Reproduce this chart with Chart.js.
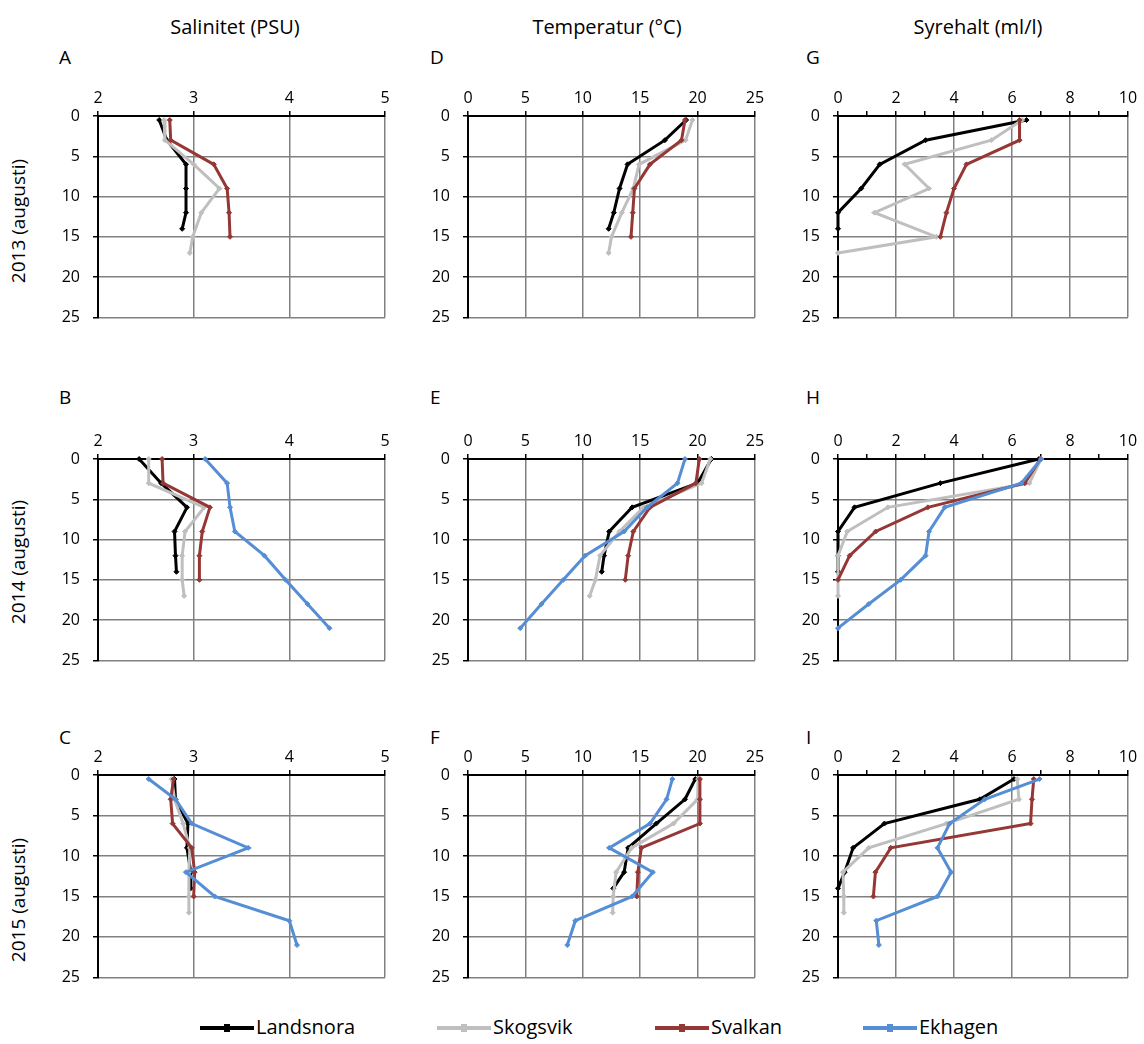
<!DOCTYPE html>
<html lang="sv">
<head>
<meta charset="UTF-8">
<title>Salinitet, temperatur och syrehalt</title>
<script src="https://cdn.jsdelivr.net/npm/chart.js"></script>
<style>
  body { margin: 0; background: #fff; font-family: "Open Sans", sans-serif; color: #000; }
  #page { position: relative; width: 1144px; height: 1044px; overflow: hidden; }
  #page div { position: absolute; white-space: nowrap; }
  .title { font-size: 20px; line-height: 28px; width: 300px; text-align: center; top: 13px; }
  .letter { font-size: 19px; line-height: 24px; }
  .row { font-size: 19px; line-height: 26px; width: 200px; text-align: center; transform: rotate(-90deg); }
  .leg { font-size: 20px; line-height: 28px; top: 1013px; }
  .leg span { display: inline-block; width: 54px; height: 4px; vertical-align: middle; margin-right: 2px; position: relative; top: -1px; }
  .leg span i { position: absolute; left: 24px; top: -2px; width: 6px; height: 8px; background: inherit; }
  canvas { position: absolute; }
</style>
</head>
<body>
<div id="page">
  <div class="title" style="left:85px">Salinitet (PSU)</div>
  <div class="title" style="left:457px">Temperatur (°C)</div>
  <div class="title" style="left:828px">Syrehalt (ml/l)</div>

  <div class="letter" style="left:59px;top:45px">A</div>
  <div class="letter" style="left:430px;top:45px">D</div>
  <div class="letter" style="left:806px;top:45px">G</div>
  <div class="letter" style="left:59px;top:385px">B</div>
  <div class="letter" style="left:430px;top:385px">E</div>
  <div class="letter" style="left:806px;top:385px">H</div>
  <div class="letter" style="left:59px;top:725px">C</div>
  <div class="letter" style="left:430px;top:725px">F</div>
  <div class="letter" style="left:806px;top:725px">I</div>

  <div class="row" style="left:-82px;top:208px">2013 (augusti)</div>
  <div class="row" style="left:-82px;top:549px">2014 (augusti)</div>
  <div class="row" style="left:-82px;top:887px">2015 (augusti)</div>
</div>

<script>
// stations and colours
const stations = ['Landsnora', 'Skogsvik', 'Svalkan', 'Ekhagen'];
const stationColors = ['#000000', '#BFBFBF', '#953735', '#558ED5'];

// sampling depths (m)
const landsnoraDepth13 = [0.5, 3, 6, 9, 12, 14];
const skogsvikDepth13 = [0.5, 3, 6, 9, 12, 15, 17];
const svalkanDepth13 = [0.5, 3, 6, 9, 12, 15];
const landsnoraDepth14 = [0, 3, 6, 9, 12, 14];
const skogsvikDepth14 = [0, 3, 6, 9, 12, 15, 17];
const svalkanDepth14 = [0, 3, 6, 9, 12, 15];
const ekhagenDepth14 = [0, 3, 6, 9, 12, 15, 18, 21];
const landsnoraDepth15 = [0.5, 3, 6, 9, 12, 14];
const skogsvikDepth15 = [0.5, 3, 6, 9, 12, 15, 17];
const svalkanDepth15 = [0.5, 3, 6, 9, 12, 15];
const ekhagenDepth15 = [0.5, 3, 6, 9, 12, 15, 18, 21];

// 2013
const landsnoraSal13 = [2.64, 2.72, 2.92, 2.92, 2.92, 2.88];
const skogsvikSal13 = [2.69, 2.70, 3.00, 3.27, 3.08, 2.99, 2.96];
const svalkanSal13 = [2.75, 2.76, 3.21, 3.35, 3.37, 3.38];
const landsnoraTemp13 = [19.0, 17.15, 13.9, 13.2, 12.7, 12.25];
const skogsvikTemp13 = [19.55, 18.95, 14.9, 14.4, 13.4, 12.5, 12.25];
const svalkanTemp13 = [18.9, 18.6, 15.85, 14.5, 14.35, 14.2];
const landsnoraOxy13 = [6.5, 3.02, 1.44, 0.8, 0, 0];
const skogsvikOxy13 = [6.35, 5.29, 2.3, 3.14, 1.26, 3.39, 0];
const svalkanOxy13 = [6.26, 6.26, 4.43, 4.0, 3.74, 3.53];

// 2014
const landsnoraSal14 = [2.43, 2.66, 2.93, 2.80, 2.81, 2.82];
const skogsvikSal14 = [2.53, 2.53, 3.11, 2.91, 2.88, 2.88, 2.90];
const svalkanSal14 = [2.67, 2.68, 3.17, 3.09, 3.06, 3.06];
const ekhagenSal14 = [3.12, 3.35, 3.38, 3.43, 3.74, 3.96, 4.19, 4.42];
const landsnoraTemp14 = [21.2, 20.0, 14.3, 12.3, 11.85, 11.65];
const skogsvikTemp14 = [21.1, 20.35, 15.3, 13.2, 11.5, 11.1, 10.6];
const svalkanTemp14 = [20.15, 19.85, 15.85, 14.4, 13.95, 13.7];
const ekhagenTemp14 = [18.9, 18.25, 15.6, 13.6, 10.2, 8.3, 6.4, 4.55];
const landsnoraOxy14 = [6.93, 3.53, 0.57, 0, 0, 0];
const skogsvikOxy14 = [7.0, 6.6, 1.72, 0.32, 0, 0, 0];
const svalkanOxy14 = [6.98, 6.44, 3.1, 1.3, 0.4, 0];
const ekhagenOxy14 = [7.01, 6.32, 3.68, 3.14, 3.02, 2.16, 1.06, 0];

// 2015
const landsnoraSal15 = [2.80, 2.81, 2.94, 2.93, 2.97, 2.97];
const skogsvikSal15 = [2.77, 2.80, 2.89, 2.96, 2.95, 2.95, 2.95];
const svalkanSal15 = [2.79, 2.76, 2.78, 2.98, 3.01, 3.00];
const ekhagenSal15 = [2.53, 2.81, 2.98, 3.57, 2.92, 3.22, 4.0, 4.08];
const landsnoraTemp15 = [19.8, 18.9, 16.4, 13.95, 13.6, 12.65];
const skogsvikTemp15 = [20.05, 20.0, 17.9, 14.25, 12.9, 12.65, 12.6];
const svalkanTemp15 = [20.2, 20.2, 20.2, 15.1, 14.8, 14.7];
const ekhagenTemp15 = [17.8, 17.3, 15.85, 12.3, 16.1, 14.3, 9.35, 8.65];
const landsnoraOxy15 = [6.07, 4.89, 1.6, 0.52, 0.23, 0];
const skogsvikOxy15 = [6.18, 6.24, 3.74, 1.06, 0.17, 0.2, 0.2];
const svalkanOxy15 = [6.75, 6.69, 6.64, 1.82, 1.29, 1.22];
const ekhagenOxy15 = [6.95, 5.06, 3.85, 3.43, 3.9, 3.43, 1.32, 1.41];

// axis ranges
const salTicks = [2, 5, 1];
const tempTicks = [0, 25, 5];
const oxyTicks = [0, 10, 1];
const depthTicks = [0, 25, 5];

// layout of the 3x3 grid
const colLeft = [98, 468, 838];
const colWidth = [287, 287, 290];
const rowTop = [116, 459, 775];
const rowHeight = [212, 212, 213];
const Y_W = 44, X_H = 36, PAD_R = 14, PAD_B = 12;
const GRID = '#808080';
const tickFont = { family: 'Open Sans', size: 16 };

const page = document.getElementById('page');

function panel(col, row, xr, lines) {
  const w = colWidth[col], h = rowHeight[row];
  const canvas = document.createElement('canvas');
  canvas.width = Y_W + w + PAD_R;
  canvas.height = X_H + h + PAD_B;
  canvas.style.left = (colLeft[col] - Y_W) + 'px';
  canvas.style.top = (rowTop[row] - X_H) + 'px';
  page.appendChild(canvas);

  const oxy = xr === oxyTicks;
  new Chart(canvas, {
    type: 'scatter',
    data: {
      datasets: lines.map(l => ({
        label: stations[l[0]],
        data: l[1].map((d, k) => ({ x: l[2][k], y: d })),
        showLine: true,
        borderColor: stationColors[l[0]],
        backgroundColor: stationColors[l[0]],
        borderWidth: 3,
        pointRadius: 2.5,
        pointBorderWidth: 1,
        pointStyle: 'rectRot',
        order: 3 - l[0],
        clip: 6
      }))
    },
    options: {
      responsive: false,
      animation: false,
      devicePixelRatio: 1,
      layout: { padding: { left: 0, top: 0, right: PAD_R, bottom: PAD_B } },
      plugins: { legend: { display: false }, tooltip: { enabled: false } },
      scales: {
        x: {
          type: 'linear', position: 'top',
          min: xr[0], max: xr[1],
          afterFit: s => { s.height = X_H; },
          ticks: {
            stepSize: xr[2], autoSkip: false, maxRotation: 0, padding: 3,
            color: '#000', font: tickFont,
            callback: v => (oxy && v % 2 !== 0) ? '' : v
          },
          grid: {
            color: c => (oxy && c.tick && c.tick.value % 2 !== 0) ? 'rgba(0,0,0,0)' : GRID,
            lineWidth: 1.5, tickColor: '#000', tickLength: 5, tickWidth: 1.5
          },
          border: { color: '#000', width: 2 }
        },
        y: {
          type: 'linear', reverse: true,
          min: depthTicks[0], max: depthTicks[1],
          afterFit: s => { s.width = Y_W; },
          ticks: { stepSize: depthTicks[2], padding: 13, color: '#000', font: tickFont },
          grid: { color: GRID, lineWidth: 1.5, tickColor: '#000', tickLength: 5, tickWidth: 1.5 },
          border: { color: '#000', width: 2 }
        }
      }
    }
  });
}

// 2013
panel(0, 0, salTicks, [[0, landsnoraDepth13, landsnoraSal13], [1, skogsvikDepth13, skogsvikSal13], [2, svalkanDepth13, svalkanSal13]]);
panel(1, 0, tempTicks, [[0, landsnoraDepth13, landsnoraTemp13], [1, skogsvikDepth13, skogsvikTemp13], [2, svalkanDepth13, svalkanTemp13]]);
panel(2, 0, oxyTicks, [[0, landsnoraDepth13, landsnoraOxy13], [1, skogsvikDepth13, skogsvikOxy13], [2, svalkanDepth13, svalkanOxy13]]);
// 2014
panel(0, 1, salTicks, [[0, landsnoraDepth14, landsnoraSal14], [1, skogsvikDepth14, skogsvikSal14], [2, svalkanDepth14, svalkanSal14], [3, ekhagenDepth14, ekhagenSal14]]);
panel(1, 1, tempTicks, [[0, landsnoraDepth14, landsnoraTemp14], [1, skogsvikDepth14, skogsvikTemp14], [2, svalkanDepth14, svalkanTemp14], [3, ekhagenDepth14, ekhagenTemp14]]);
panel(2, 1, oxyTicks, [[0, landsnoraDepth14, landsnoraOxy14], [1, skogsvikDepth14, skogsvikOxy14], [2, svalkanDepth14, svalkanOxy14], [3, ekhagenDepth14, ekhagenOxy14]]);
// 2015
panel(0, 2, salTicks, [[0, landsnoraDepth15, landsnoraSal15], [1, skogsvikDepth15, skogsvikSal15], [2, svalkanDepth15, svalkanSal15], [3, ekhagenDepth15, ekhagenSal15]]);
panel(1, 2, tempTicks, [[0, landsnoraDepth15, landsnoraTemp15], [1, skogsvikDepth15, skogsvikTemp15], [2, svalkanDepth15, svalkanTemp15], [3, ekhagenDepth15, ekhagenTemp15]]);
panel(2, 2, oxyTicks, [[0, landsnoraDepth15, landsnoraOxy15], [1, skogsvikDepth15, skogsvikOxy15], [2, svalkanDepth15, svalkanOxy15], [3, ekhagenDepth15, ekhagenOxy15]]);

// legend along the bottom
const legendLeft = [200, 437, 655, 863];
stations.forEach((name, i) => {
  const d = document.createElement('div');
  d.className = 'leg';
  d.style.left = legendLeft[i] + 'px';
  const sw = document.createElement('span');
  sw.style.background = stationColors[i];
  sw.appendChild(document.createElement('i'));
  d.appendChild(sw);
  d.appendChild(document.createTextNode(name));
  page.appendChild(d);
});
</script>
</body>
</html>
